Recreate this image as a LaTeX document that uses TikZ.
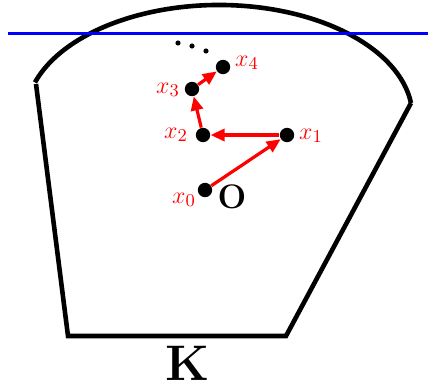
\documentclass[tikz,border=0pt]{standalone}
\usetikzlibrary{arrows.meta}
\begin{document}
\begin{tikzpicture}[x=0.5pt,y=0.5pt,
  dot/.style={circle,fill=black,inner sep=0pt,minimum size=7.2pt},
  smalldot/.style={circle,fill=black,inner sep=0pt,minimum size=2.6pt},
  lab/.style={text=red,font=\fontsize{13}{15}\selectfont,inner sep=0pt},
  redarrow/.style={draw=red,line width=1.6pt,-{Triangle[length=7pt,width=6pt]}},
  body/.style={line width=2.3pt}]
\useasboundingbox (0,0) rectangle (428,387);
% body K
\coordinate (ec) at (219,270);
\draw[body] (ec) ++(162:193.5 and 112) arc[start angle=162, end angle=7.18, x radius=193.5, y radius=112];
\draw[body] (36,303) -- (68,51) -- (286,51) -- (411,284);
% blue line
\coordinate (bl) at (8,354);
\coordinate (br) at (428,354);
\draw[blue,line width=1.5pt] (bl) -- (br);
% points
\node[dot] (p0) at (205,197) {};
\node[dot] (p1) at (287,252) {};
\node[dot] (p2) at (203,252) {};
\node[dot] (p3) at (192,298) {};
\node[dot] (p4) at (223,320) {};
\node[smalldot] (d1) at (178,344) {};
\node[smalldot] (d2) at (192,341) {};
\node[smalldot] (d3) at (206,336) {};
% arrows
\draw[redarrow] (p0) -- (p1);
\draw[redarrow] (p1) -- (p2);
\draw[redarrow] (p2) -- (p3);
\draw[redarrow] (p3) -- (p4);
% labels
\node[lab] (l0) at (184,187) {$x_0$};
\node[lab] (l1) at (311,251) {$x_1$};
\node[lab] (l2) at (176,252) {$x_2$};
\node[lab] (l3) at (168,297) {$x_3$};
\node[lab] (l4) at (247,324) {$x_4$};
\node[inner sep=0pt,font=\fontsize{17}{20}\selectfont\bfseries] (o) at (232,190) {O};
\node[inner sep=0pt,font=\fontsize{25}{30}\selectfont\bfseries] (k) at (188,24) {K};
\end{tikzpicture}
\end{document}
